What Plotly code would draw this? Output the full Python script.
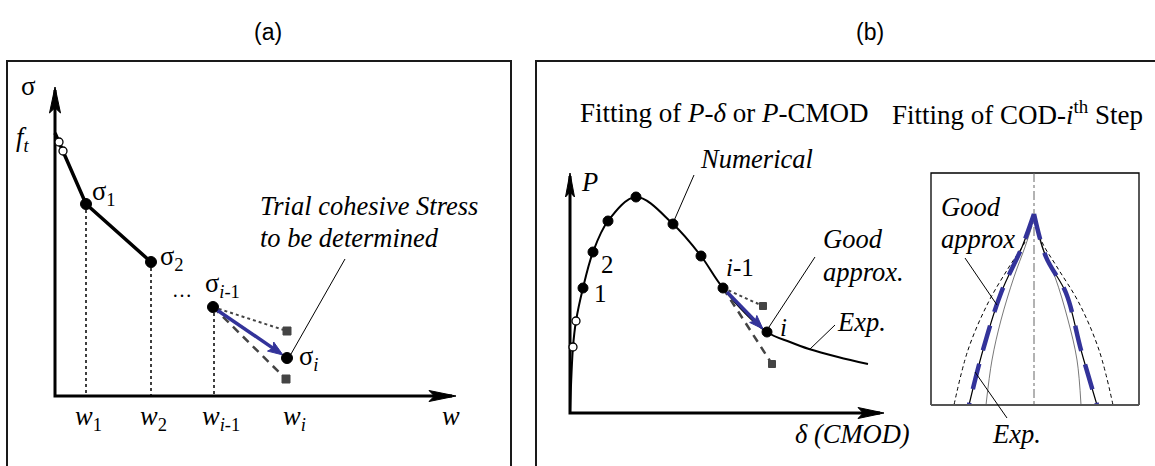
import math
import plotly.graph_objects as go

W, H = 1155, 466

# ---------------- data (pixel-space schematic coordinates) ----------------
# panel frames
frame_a_x = [7, 7, 511, 511]
frame_a_y = [470, 61, 61, 470]
frame_b_x = [536, 536, 1160]
frame_b_y = [470, 61, 61]

# panel (a): cohesive law sigma-w
axis_a_x = [55, 55, 452]
axis_a_y = [90, 396, 396]
axis_a_ytip = [55, 87]
axis_a_xtip = [456, 396]
sigma_w = [55, 59, 63, 86, 151]
sigma_s = [133, 142, 151, 204, 262]
open_a_w = [59, 63]
open_a_s = [142, 151]
solid_a_w = [86, 151, 213, 287]
solid_a_s = [204, 262, 307, 358]
drop_w = [86, 151, 214]
drop_top = [204, 262, 307]
drop_base = 396
trial_from = [213, 307]
trial_high = [287, 331]
trial_low = [286, 379]
arrow_a_tail = [217, 310]
arrow_a_tip = [283, 355]
leader_a = [[345, 259], [291, 354]]

# panel (b): load-displacement curve
axis_b_x = [570, 570, 880]
axis_b_y = [176, 413, 413]
axis_b_ytip = [570, 173]
axis_b_xtip = [884, 413]
pcurve_x = [570, 573, 576, 583, 593, 608, 636, 673, 701, 723, 767, 790, 809, 838, 868]
pcurve_y = [413, 347, 321, 288, 252, 221, 197, 224, 256, 288, 332, 342, 349, 357, 364]
open_b_x = [573, 576]
open_b_y = [347, 321]
num_x = [583, 593, 608, 636, 673, 701, 723, 767]
num_y = [288, 252, 221, 197, 224, 256, 288, 332]
trial_b_from = [723, 288]
trial_b_high = [763, 306]
trial_b_low = [772, 364]
arrow_b_tail = [727, 292]
arrow_b_tip = [763, 329]
leader_num = [[694, 175], [673, 223]]
leader_good = [[815, 257], [769, 327]]
leader_exp = [[835, 325], [809, 350]]

# panel (b) inset: COD profiles at i-th step
inset_x = [931, 1139]
inset_top, inset_bot = 173, 405
centre_x = 1034
good_l_x = [1034, 1022, 1001, 983, 969]
good_l_y = [214, 247, 293, 350, 405]
good_r_x = [1034, 1046, 1066, 1081, 1097]
good_r_y = [214, 257, 293, 350, 405]
outer_l_x = [1032, 1025, 1009, 988, 968, 954]
outer_l_y = [222, 242, 267, 303, 350, 405]
outer_r_x = [1036, 1042, 1057, 1079, 1099, 1113]
outer_r_y = [222, 242, 267, 303, 350, 405]
inner_l_x = [1032, 1025, 1014, 1001, 992, 986]
inner_l_y = [226, 247, 277, 320, 360, 405]
inner_r_x = [1036, 1042, 1055, 1068, 1077, 1081]
inner_r_y = [226, 247, 277, 320, 360, 405]
leader_in_good = [[965, 258], [997, 305]]
leader_in_exp = [[1007, 418], [975, 372]]

BLUE = "#33339a"
GREY = "#444444"
SERIF = "Liberation Serif"

fig = go.Figure()


def line(xs, ys, color="black", width=2, dash="solid", shape="linear"):
    fig.add_trace(go.Scatter(x=xs, y=ys, mode="lines", hoverinfo="skip",
                             line=dict(color=color, width=width, dash=dash, shape=shape)))


def dots(xs, ys, size=10, color="black", fill="black", symbol="circle", lw=1):
    fig.add_trace(go.Scatter(x=xs, y=ys, mode="markers", hoverinfo="skip",
                             marker=dict(size=size, color=fill, symbol=symbol,
                                         line=dict(color=color, width=lw))))


def head(tip, tail, length, width, color):
    dx, dy = tip[0] - tail[0], tip[1] - tail[1]
    n = math.hypot(dx, dy)
    ux, uy = dx / n, dy / n
    bx, by = tip[0] - ux * length, tip[1] - uy * length
    px, py = -uy, ux
    xs = [tip[0], bx + px * width / 2, tip[0] - ux * length * 0.8, bx - px * width / 2, tip[0]]
    ys = [tip[1], by + py * width / 2, tip[1] - uy * length * 0.8, by - py * width / 2, tip[1]]
    fig.add_trace(go.Scatter(x=xs, y=ys, mode="lines", fill="toself", fillcolor=color,
                             hoverinfo="skip", line=dict(color=color, width=1)))
    return [tip[0] - ux * length * 0.7, tip[1] - uy * length * 0.7]


def arrow(tail, tip, color, width, hl, hw):
    end = head(tip, tail, hl, hw, color)
    line([tail[0], end[0]], [tail[1], end[1]], color=color, width=width)


# frames
line(frame_a_x, frame_a_y, color="#1a1a1a", width=2)
line(frame_b_x, frame_b_y, color="#1a1a1a", width=2)

# ---- panel (a)
for xw, yt in zip(drop_w, drop_top):
    line([xw, xw], [yt, drop_base], width=1.5, dash="dot")
line(axis_a_x, axis_a_y, width=3)
head(axis_a_ytip, [axis_a_ytip[0], axis_a_ytip[1] + 50], 26, 11, "black")
head(axis_a_xtip, [axis_a_xtip[0] - 50, axis_a_xtip[1]], 27, 11, "black")
line(sigma_w, sigma_s, width=3.5)
line([trial_from[0], trial_high[0]], [trial_from[1], trial_high[1]], color=GREY, width=2, dash="dot")
line([trial_from[0], trial_low[0]], [trial_from[1], trial_low[1]], color=GREY, width=2.5, dash="8px,6px")
line([p[0] for p in leader_a], [p[1] for p in leader_a], width=1)
dots([trial_high[0], trial_low[0]], [trial_high[1], trial_low[1]], size=8, color=GREY, fill=GREY, symbol="square")
arrow(arrow_a_tail, arrow_a_tip, BLUE, 3.5, 15, 11)
dots(solid_a_w, solid_a_s, size=11)
dots(open_a_w, open_a_s, size=8, fill="white", lw=1.3)

# ---- panel (b)
line(axis_b_x, axis_b_y, width=3)
head(axis_b_ytip, [axis_b_ytip[0], axis_b_ytip[1] + 50], 24, 9, "black")
head(axis_b_xtip, [axis_b_xtip[0] - 50, axis_b_xtip[1]], 26, 11, "black")
line(pcurve_x, pcurve_y, width=2, shape="spline")
line([trial_b_from[0], trial_b_high[0]], [trial_b_from[1], trial_b_high[1]], color=GREY, width=2, dash="dot")
line([trial_b_from[0], trial_b_low[0]], [trial_b_from[1], trial_b_low[1]], color=GREY, width=2.5, dash="8px,6px")
dots([trial_b_high[0], trial_b_low[0]], [trial_b_high[1], trial_b_low[1]], size=7, color=GREY, fill=GREY, symbol="square")
for ld in (leader_num, leader_good, leader_exp):
    line([p[0] for p in ld], [p[1] for p in ld], width=1)
arrow(arrow_b_tail, arrow_b_tip, BLUE, 3.5, 14, 10)
dots(num_x, num_y, size=10)
dots(open_b_x, open_b_y, size=8, fill="white", lw=1.3)

# ---- inset
line([inset_x[0], inset_x[0], inset_x[1], inset_x[1]], [inset_bot, inset_top, inset_top, inset_bot], width=1.3)
line([centre_x, centre_x], [inset_top, inset_bot], color="#666666", width=1, dash="dashdot")
line(outer_l_x, outer_l_y, width=1, dash="4px,3px", shape="spline")
line(outer_r_x, outer_r_y, width=1, dash="4px,3px", shape="spline")
line(inner_l_x, inner_l_y, color="#555555", width=0.8, shape="spline")
line(inner_r_x, inner_r_y, color="#555555", width=0.8, shape="spline")
line(good_l_x, good_l_y, width=1.2, shape="spline")
line(good_r_x, good_r_y, width=1.2, shape="spline")
line(good_l_x, good_l_y, color=BLUE, width=4.5, dash="26px,14px", shape="spline")
line(good_r_x, good_r_y, color=BLUE, width=4.5, dash="26px,14px", shape="spline")
line(inset_x, [inset_bot, inset_bot], color="#555555", width=2)
for ld in (leader_in_good, leader_in_exp):
    line([p[0] for p in ld], [p[1] for p in ld], width=1)

# ---------------- text ----------------
ann = []
LBL = 26.5


def txt(x, y, s, size=LBL, xa="left", family=SERIF):
    ann.append(dict(x=x, y=y, text=s, xref="x", yref="y", showarrow=False,
                    xanchor=xa, yanchor="middle", font=dict(family=family, size=size, color="black")))


txt(268, 32, "(a)", 23, "center", "Liberation Sans")
txt(870, 32, "(b)", 23, "center", "Liberation Sans")

txt(28, 86, "σ", 27, "center")
txt(22, 139, "<i>f<sub>t</sub></i>", LBL, "center")
txt(90, 193, "σ<sub>1</sub>")
txt(158, 258, "σ<sub>2</sub>")
txt(182, 290, "…", 20, "center")
txt(203, 285, "σ<sub><i>i</i>-1</sub>")
txt(297, 358, "σ<sub><i>i</i></sub>")
txt(258, 206, "<i>Trial cohesive Stress</i>")
txt(258, 238, "<i>to be determined</i>")
txt(88, 418, "<i>w</i><sub>1</sub>", LBL, "center")
txt(153, 418, "<i>w</i><sub>2</sub>", LBL, "center")
txt(221, 418, "<i>w</i><sub><i>i</i>-1</sub>", LBL, "center")
txt(294, 418, "<i>w<sub>i</sub></i>", LBL, "center")
txt(451, 416, "<i>w</i>", LBL, "center")

txt(578, 113, "Fitting of <i>P</i>-<i>δ</i> or <i>P</i>-CMOD", 27)
txt(890, 113, "Fitting of COD-<i>i</i><sup>th</sup> Step", 27)
txt(698, 159, "<i>Numerical</i>")
txt(579, 182, "<i>P</i>")
txt(599, 264, "2", 25)
txt(592, 293, "1", 25)
txt(740, 267, "<i>i</i>-1", 25, "center")
txt(778, 327, "<i>i</i>", 25)
txt(821, 239, "<i>Good</i>")
txt(821, 272, "<i>approx.</i>")
txt(835, 322, "<i>Exp.</i>")
txt(793, 434, "<i>δ (CMOD)</i>")
txt(939, 207, "<i>Good</i>")
txt(939, 239, "<i>approx</i>")
txt(1016, 434, "<i>Exp.</i>", LBL, "center")

fig.update_layout(
    width=W, height=H, margin=dict(l=0, r=0, t=0, b=0),
    paper_bgcolor="white", plot_bgcolor="white", showlegend=False,
    xaxis=dict(range=[0, W], visible=False, fixedrange=True),
    yaxis=dict(range=[H, 0], visible=False, fixedrange=True),
    annotations=ann,
)

fig.write_html("out.html", config={"displayModeBar": False, "staticPlot": True},
               post_script="document.body.style.margin='0px';document.body.style.overflow='hidden';")
